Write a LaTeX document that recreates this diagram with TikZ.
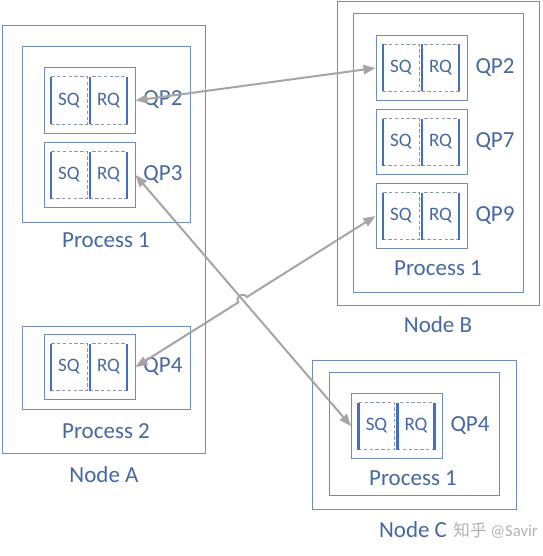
\documentclass[tikz,border=0pt]{standalone}
\usepackage{fontspec}
\setmainfont{Carlito}
\newfontfamily\cjkfont{Noto Sans CJK SC}
\usetikzlibrary{calc,arrows.meta}

\definecolor{boxblue}{RGB}{112,140,184}
\definecolor{qblue}{RGB}{70,110,190}
\definecolor{dashgray}{RGB}{140,152,172}
\definecolor{txtblue}{RGB}{68,104,162}
\definecolor{linkgray}{RGB}{165,165,165}

\tikzset{
  frame/.style={draw=boxblue, line width=0.5pt, inner sep=0pt},
  qpbox/.style={frame, minimum width=45.5pt, minimum height=32.5pt},
  qdash/.style={draw=dashgray, line width=0.5pt, dash pattern=on 1.7pt off 1.2pt},
  qline/.style={draw=qblue, line width=1.2pt},
  qtext/.style={text=txtblue, font=\fontsize{9.5}{11}\selectfont, inner sep=0pt},
  lbl/.style={text=txtblue, font=\fontsize{11.5}{13}\selectfont, inner sep=0pt},
  link/.style={draw=linkgray, line width=1pt,
    {Triangle[length=6pt,width=4.6pt]}-{Triangle[length=6pt,width=4.6pt]}}
}

\begin{document}
\begin{tikzpicture}[x=0.5pt, y=-0.5pt]
\useasboundingbox (0, 0) rectangle (542, 556);

% Node A
\node[frame, minimum width=101.5pt, minimum height=213.5pt] (nodeA) at (103.5, 239.5) {};
\node[frame, minimum width=84pt, minimum height=87.5pt] (procA1) at (106, 134.5) {};
\node[frame, minimum width=84pt, minimum height=41.5pt] (procA2) at (106, 367.5) {};
\node[qpbox] (a2) at (89.5, 100.5) {};
\node[qpbox] (a3) at (89.5, 175) {};
\node[qpbox] (a4) at (89.5, 367) {};

% Node B
\node[frame, minimum width=101pt, minimum height=151.5pt] (nodeB) at (438, 153.5) {};
\node[frame, minimum width=85pt, minimum height=139pt] (procB1) at (438, 153) {};
\node[qpbox] (b2) at (421.5, 68) {};
\node[qpbox] (b7) at (421.5, 142) {};
\node[qpbox] (b9) at (421.5, 216) {};

% Node C
\node[frame, minimum width=102pt, minimum height=74.5pt] (nodeC) at (414, 434.5) {};
\node[frame, minimum width=85pt, minimum height=61.5pt] (procC1) at (414, 433.5) {};
\node[qpbox] (c4) at (397, 426) {};

% send and receive queues
\foreach \q in {a2, a3, a4, b2, b7, b9, c4} {
  \draw[qdash] ([shift={(-38.5,-23.5)}]\q.center) rectangle ([shift={(-2.5,23.5)}]\q.center);
  \draw[qdash] ([shift={(0.5,-23.5)}]\q.center) rectangle ([shift={(37.5,23.5)}]\q.center);
  \draw[qline] ([shift={(-38.5,-23.5)}]\q.center) -- ++(0, 47);
  \draw[qline] ([shift={(0.5,-23.5)}]\q.center) -- ++(0, 47);
  \draw[qline] ([shift={(37.5,-23.5)}]\q.center) -- ++(0, 47);
  \node[qtext] (\q-sq) at ([shift={(-20.5,0)}]\q.center) {SQ};
  \node[qtext] (\q-rq) at ([shift={(19,0)}]\q.center) {RQ};
}

\node[lbl] (qpA2) at (163, 100) {QP2};
\node[lbl] (qpA3) at (163, 175) {QP3};
\node[lbl] (qpA4) at (163, 367) {QP4};
\node[lbl] (qpB2) at (495, 68) {QP2};
\node[lbl] (qpB7) at (495, 142) {QP7};
\node[lbl] (qpB9) at (495, 216) {QP9};
\node[lbl] (qpC4) at (470, 426) {QP4};

\node[lbl] (lblA1) at (106, 240) {Process 1};
\node[lbl] (lblA2) at (106, 431) {Process 2};
\node[lbl] (lblA) at (104, 475) {Node A};
\node[lbl] (lblB1) at (438, 268) {Process 1};
\node[lbl] (lblB) at (438, 325) {Node B};
\node[lbl] (lblC1) at (413, 478) {Process 1};
\node[lbl] (lblC) at (413, 530) {Node C};

% links
\draw[link] (a2.east) -- (b2.west);
\draw[link] (a3.east) -- (c4.west);
\coordinate (hop) at (intersection of a3.east--c4.west and a4.east--b9.west);
\coordinate (hopin) at ($(hop)!2.5pt!(a4.east)$);
\coordinate (hopout) at ($(hop)!2.5pt!(b9.west)$);
\draw[link] (a4.east) -- (hopin) .. controls +(122.3:3.3pt) and +(122.3:3.3pt) .. (hopout) -- (b9.west);

% watermark
\node[text=black!30, font=\fontsize{8.3}{10}\selectfont, inner sep=0pt, anchor=east] (mark) at (538, 530) {{\cjkfont 知乎} @Savir};
\end{tikzpicture}
\end{document}
